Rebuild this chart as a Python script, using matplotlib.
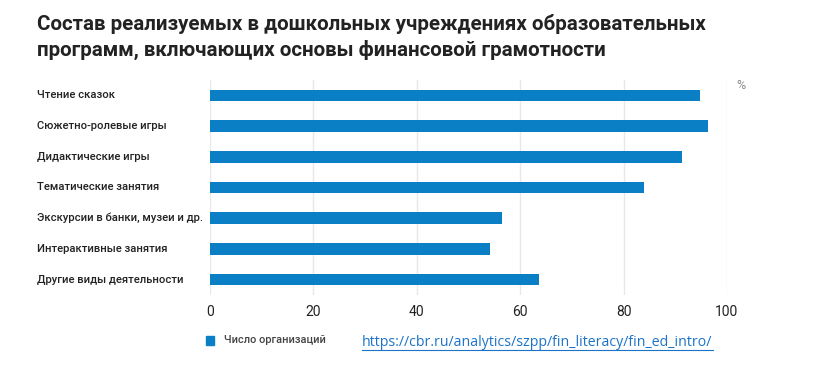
import matplotlib.pyplot as plt
import matplotlib.transforms as mtransforms

categories = ["Чтение сказок", "Сюжетно-ролевые игры", "Дидактические игры",
              "Тематические занятия", "Экскурсии в банки, музеи и др.",
              "Интерактивные занятия", "Другие виды деятельности"]
values = [94.8, 96.3, 91.2, 83.9, 56.5, 54.2, 63.6]
xticks = [0, 20, 40, 60, 80, 100]

title = ("Состав реализуемых в дошкольных учреждениях образовательных\n"
         "программ, включающих основы финансовой грамотности")
legend_label = "Число организаций"
url = "https://cbr.ru/analytics/szpp/fin_literacy/fin_ed_intro/"

plt.rcParams['font.family'] = ['Roboto', 'DejaVu Sans']
blue = "#0a7fc6"

fig = plt.figure(figsize=(8.16, 3.76), dpi=100)
ax = fig.add_axes([210 / 816, 1 - 295 / 376, 517 / 816, 215 / 376])

ypos = list(range(len(categories)))
ax.barh(ypos, values, height=0.38, color=blue, zorder=3)
ax.set_ylim(len(categories) - 0.5, -0.5)
ax.set_xlim(0, 100)
ax.set_xticks(xticks)
ax.set_xticklabels([str(t) for t in xticks], fontsize=10, color="#222222")
ax.tick_params(axis="x", length=0, pad=7)
ax.set_yticks([])
ax.grid(axis="x", color="#e8e8e8", linewidth=1, zorder=0)
for s in ax.spines.values():
    s.set_visible(False)

trans = mtransforms.blended_transform_factory(fig.transFigure, ax.transData)
for y, c in zip(ypos, categories):
    ax.text(37 / 816, y, c, transform=trans, ha="left", va="center",
            fontsize=8.1, color="#222222", fontweight="medium")

ax.text(1.027, 0.975, "%", transform=ax.transAxes, fontsize=9, color="#888888",
        ha="center", va="center")

fig.text(37 / 816, 1 - 37 / 376, title, fontsize=14.8, fontweight="bold",
         color="#222222", ha="left", va="center", linespacing=1.4)

fig.patches.append(plt.Rectangle((206 / 816, 1 - 345 / 376), 8 / 816, 9 / 376,
                                 transform=fig.transFigure, color=blue))
fig.text(224 / 816, 1 - 340 / 376, legend_label, fontsize=7.9, color="#444444",
         ha="left", va="center", fontweight="medium")
fig.text(362 / 816, 1 - 342 / 376, url, fontsize=10.2, color="#1a73c9",
         ha="left", va="center", family=['Open Sans', 'DejaVu Sans'])
fig.add_artist(plt.Line2D([362 / 816, 713 / 816], [1 - 350 / 376, 1 - 350 / 376],
                          color="#1a73c9", linewidth=0.8))

fig.savefig("out.png", dpi=100)
